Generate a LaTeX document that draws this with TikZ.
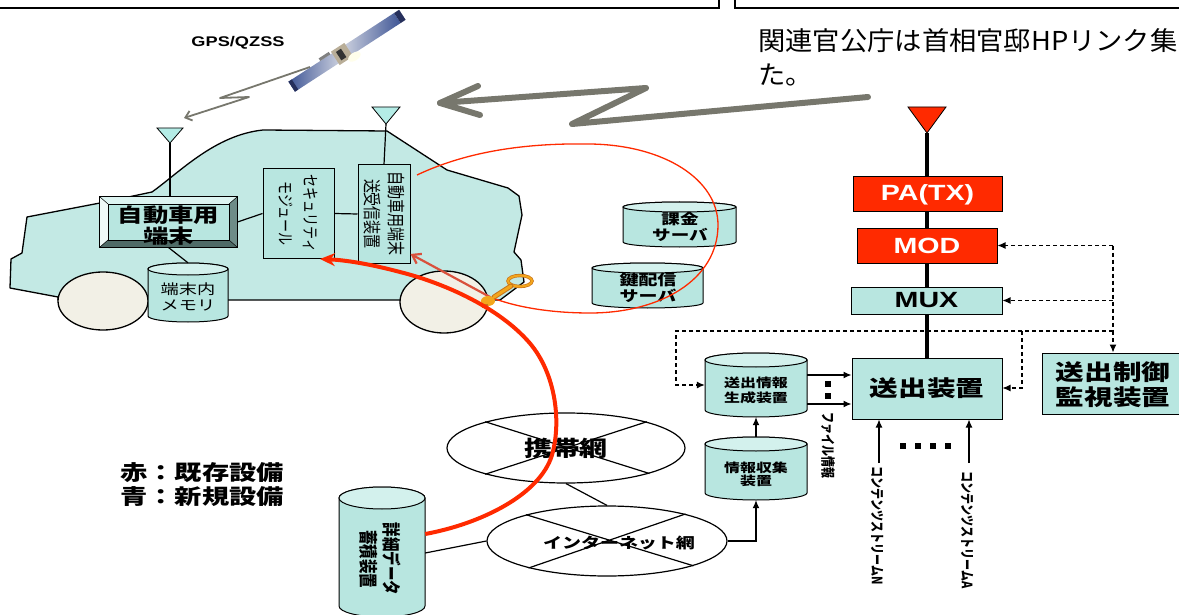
\documentclass[tikz,border=0pt]{standalone}
\usepackage{fontspec}
\usepackage{graphicx}
\setmainfont{Liberation Sans}
\newfontfamily\jp{Noto Sans CJK JP}
\usetikzlibrary{arrows.meta,shapes.geometric,calc}

\definecolor{aqua}{HTML}{B8E6E0}
\definecolor{aquatop}{HTML}{D3F1ED}
\definecolor{carbody}{HTML}{C3E9E4}
\definecolor{antc}{HTML}{B4ECE6}
\definecolor{tyre}{HTML}{F2F0E6}
\definecolor{hot}{HTML}{FF2A00}
\definecolor{rustred}{HTML}{D9503C}
\definecolor{wave}{HTML}{77776D}
\definecolor{keygold}{HTML}{F3A61C}
\definecolor{keyedge}{HTML}{C8741A}
\definecolor{bevlight}{HTML}{DDF4F1}
\definecolor{bevpale}{HTML}{EFFAF8}
\definecolor{bevdark}{HTML}{4F6B67}
\definecolor{bevmid}{HTML}{6E8C88}
\definecolor{satblue}{HTML}{3F5696}
\definecolor{satpale}{HTML}{C9CEDD}
\definecolor{satdark}{HTML}{26305C}
\definecolor{satbody}{HTML}{B9AE98}

\tikzset{
  wire/.style={draw=black, line width=1.2pt},
  arr/.style={wire, -{Latex[length=8pt,width=7pt]}},
  ctl/.style={draw=black, line width=1.1pt, dash pattern=on 4pt off 3pt},
  ctlarr/.style={ctl, -{Latex[length=8pt,width=7pt]}},
  box/.style={draw=black, line width=1pt, fill=aqua, inner sep=0pt},
  redbox/.style={draw=black, line width=1pt, fill=hot, inner sep=0pt},
  net/.style={draw=black, line width=1.2pt, ellipse, inner sep=0pt},
  lbl/.style={inner sep=0pt, xscale=1.3, align=center},
  vlbl/.style={inner sep=0pt, xscale=1.3, rotate=-90, align=center},
  jb/.style 2 args={font=\jp\bfseries\fontsize{#1}{#2}\selectfont},
  jr/.style 2 args={font=\jp\fontsize{#1}{#2}\selectfont},
  lb/.style 2 args={font=\bfseries\fontsize{#1}{#2}\selectfont},
  wavethin/.style={draw=wave, line width=1.8pt, line join=round, -{Straight Barb[length=6pt,width=10pt]}},
  wavebig/.style={draw=wave, line width=6pt, line join=round, line cap=round},
  redthin/.style={draw=hot, line width=1.3pt},
  redmid/.style={draw=rustred, line width=2.2pt, -{Straight Barb[length=8pt,width=11pt]}},
  redfat/.style={draw=hot, line width=4pt, -{Stealth[length=15pt,width=13pt]}},
}

% drum: name, centre x, top y, bottom y, half width, cap radius
\newcommand{\drum}[6]{%
  \pgfmathsetmacro{\drumL}{#2-#5}%
  \pgfmathsetmacro{\drumR}{#2+#5}%
  \pgfmathsetmacro{\drumT}{#3+#6}%
  \pgfmathsetmacro{\drumB}{#4-#6}%
  \pgfmathsetmacro{\drumM}{(#3+#4)/2}%
  \pgfmathsetmacro{\drumW}{2*#5}%
  \pgfmathsetmacro{\drumH}{#4-#3}%
  \filldraw[fill=aqua,draw=black,line width=1pt] (\drumL,\drumT) -- (\drumL,\drumB)
    arc[start angle=180,end angle=0,x radius=#5,y radius=#6] -- (\drumR,\drumT)
    arc[start angle=0,end angle=-180,x radius=#5,y radius=#6] -- cycle;
  \filldraw[fill=aquatop,draw=black,line width=1pt] (#2,\drumT) ellipse[x radius=#5,y radius=#6];
  \node[inner sep=0pt,minimum width=\drumW,minimum height=\drumH] (#1) at (#2,\drumM) {};
}

\begin{document}
\begin{tikzpicture}[x=1pt,y=-1pt]
\useasboundingbox (0,0) rectangle (1179,615);
\clip (0,0) rectangle (1179,615);

% page frames along the top
\draw[line width=2.2pt] (-5,8) -- (719,8) -- (719,-5);
\draw[line width=2.2pt] (735,-5) -- (735,8) -- (1190,8);

% heading text
\node[jr={26}{30}, xscale=1.05, inner sep=0pt, anchor=base west] (hd1) at (758,51) {関連官公庁は首相官邸HPリンク集};
\node[jr={26}{30}, xscale=1.05, inner sep=0pt, anchor=base west] (hd2) at (758,85) {た。};

% satellite
\node[lbl, lb={14}{16}] (gps) at (238,42.5) {GPS/QZSS};
\begin{scope}[shift={(342,54)}, rotate=33]
  \shade[left color=satblue, right color=satpale] (-60,-6) rectangle (-7,6);
  \shade[left color=satpale, right color=satblue] (7,-6) rectangle (66,6);
  \fill[satdark] (66,-6) rectangle (72,6);
  \fill[satdark] (-60,-6) rectangle (-56,6);
  \fill[satbody] (-8,-8) rectangle (8,8);
  \fill[black!80] (-4,-5) rectangle (2,5);
  \fill[white!92!yellow] (9,9) ellipse[x radius=7, y radius=4];
  \fill[gray] (-22,-9) rectangle (-10,-6);
\end{scope}

% radio paths
\coordinate (satpt) at (310,67);
\coordinate (gz1) at (220,98);
\coordinate (gz2) at (249,97);
\coordinate (gtip) at (184,118);
\draw[wavethin] (satpt) -- (gz1) -- (gz2) -- (gtip);

\coordinate (bw0) at (868,97);
\coordinate (bw1) at (572,124);
\coordinate (bw2) at (646,88);
\coordinate (bw3) at (440,103);
\draw[wavebig] (bw0) -- (bw1) -- (bw2) -- (bw3);
\draw[wavebig] (bw3) -- ++(38,-17) (bw3) -- ++(40,12);

% car body and wheels
\filldraw[fill=carbody, draw=black, line width=1.3pt, line join=round]
  (58,297) -- (10,288) -- (11,259) -- (22,253) -- (27,217) -- (100,203) -- (152,192)
  .. controls (180,172) and (215,135) .. (263,130) -- (387,131) -- (447,170)
  -- (508,188) -- (519,196) -- (522,215) -- (514,252) -- (521,260) -- (524,282)
  -- (500,300) -- (58,300) -- cycle;
\filldraw[fill=tyre, draw=black, line width=1.3pt] (103,301) ellipse[x radius=45, y radius=29];
\filldraw[fill=tyre, draw=black, line width=1.3pt] (444,302) ellipse[x radius=44, y radius=31];

% antennas on the car
\filldraw[fill=antc, draw=black, line width=0.8pt] (157,128) -- (183,128) -- (170,143) -- cycle;
\coordinate (ant1) at (170,143);
\filldraw[fill=antc, draw=black, line width=0.8pt] (372,107) -- (400,107) -- (386,124) -- cycle;
\coordinate (ant2) at (386,124);

% on-board units
\node[box, minimum width=137, minimum height=50] (term) at (168.5,222) {};
\fill[bevlight] (100,197) -- (237,197) -- (229,204) -- (108,204) -- cycle;
\fill[bevpale] (100,197) -- (108,204) -- (108,240) -- (100,247) -- cycle;
\fill[bevdark] (100,247) -- (108,240) -- (229,240) -- (237,247) -- cycle;
\fill[bevmid] (237,197) -- (229,204) -- (229,240) -- (237,247) -- cycle;
\draw[line width=1pt] (term.north west) rectangle (term.south east);
\draw[line width=0.6pt] (108,204) rectangle (229,240);
\draw[line width=0.5pt] (100,197) -- (108,204) (237,197) -- (229,204) (100,247) -- (108,240) (237,247) -- (229,240);
\node[lbl, jb={19.5}{21}] at (168.5,226) {自動車用\\端末};

\node[box, minimum width=71, minimum height=89] (sec) at (298.5,213.5) {};
\node[vlbl, jr={13}{19.2}] at (sec) {セキュリティ\\モジュール};
\node[box, minimum width=52, minimum height=98] (trx) at (384,214) {};
\node[vlbl, jr={14}{18.5}] at (trx) {自動車用端末\\送受信装置};

\drum{mem}{188}{263}{322}{40}{6}
\node[lbl, jr={14}{16}] at (188,297) {端末内\\メモリ};

\draw[wire] (ant1) -- (ant1 |- term.north);
\draw[wire] (ant2) -- (trx.north);
\draw[wire] (term.east) -- (sec.west);
\draw[wire] (sec.east) -- (trx.west);
\draw[wire] (term.south) -- (mem.north);

% key servers
\drum{bill}{679.5}{202}{247}{56.5}{5}
\node[lbl, jb={14.3}{16.5}] at (680,227) {課金\\サーバ};
\drum{keysrv}{647.5}{263}{308}{55.5}{5}
\node[lbl, jb={14.6}{16.5}] at (648,288) {鍵配信\\サーバ};

% key exchange loop
\coordinate (loopa) at (417,175);
\coordinate (keypt) at (490,297);
\coordinate (trxin) at (trx.east |- 0,254);
\draw[redthin] (loopa) .. controls (470,150) and (530,143) .. (590,144)
  .. controls (665,145) and (718,180) .. (718,225)
  .. controls (718,280) and (660,313) .. (590,313)
  .. controls (550,313) and (515,307) .. (keypt);
\draw[redmid] (keypt) -- (trxin);

% key
\draw[keyedge, line width=3.4pt] (520,281) ellipse[x radius=12, y radius=5.5];
\draw[keygold, line width=2pt] (520,281) ellipse[x radius=12, y radius=5.5];
\draw[keyedge, line width=5pt, line cap=round] (511,286) -- (494,297);
\draw[keygold, line width=3pt, line cap=round] (511,286) -- (494,297);
\fill[keygold] (488,301) ellipse[x radius=7, y radius=5];
\fill[keyedge] (482,304) rectangle (488,308);

% transmitter chain
\coordinate (tri) at (927,133);
\draw[line width=4.5pt] (tri) -- (927,358);
\filldraw[fill=hot, draw=black, line width=0.8pt] (908,107) -- (946,107) -- (tri) -- cycle;
\node[redbox, minimum width=149, minimum height=35] (pa) at (927.5,194.5) {};
\node[lbl, lb={22}{24}, text=white] at (pa) {PA(TX)};
\node[redbox, minimum width=140, minimum height=35] (mod) at (927,245.5) {};
\node[lbl, lb={22}{24}, text=white] at (mod) {MOD};
\node[box, minimum width=151, minimum height=27] (mux) at (926.5,300.5) {};
\node[lbl, lb={22}{24}] at (mux) {MUX};
\node[box, minimum width=150, minimum height=61] (sout) at (927,388.5) {};
\node[lbl, jb={22}{25}] at (sout) {送出装置};
\node[box, minimum width=142, minimum height=61] (ctrl) at (1113,383.5) {};
\node[lbl, jb={22}{25}] at (1113,385) {送出制御\\監視装置};

\drum{gen}{756}{353}{417}{51}{7}
\node[lbl, jb={12.3}{15}] at (756,390) {送出情報\\生成装置};
\drum{col}{756}{437}{500}{51}{7}
\node[lbl, jb={12.3}{13}] at (756,474) {情報収集\\装置};

% control (dashed) lines
\coordinate (dtop) at (ctrl.north |- mod.east);
\coordinate (dmid) at (ctrl.north |- 0,331);
\coordinate (dleft) at (676,331);
\coordinate (dinner) at (1022,331);
\draw[ctlarr] (dtop) -- (mod.east);
\draw[ctlarr] (ctrl.north |- mux.east) -- (mux.east);
\draw[ctl] (dtop) -- (dmid);
\draw[ctlarr] (dmid) -- (ctrl.north);
\draw[ctlarr] (dmid) -- (dleft) -- (dleft |- 0,385) -- (gen.west |- 0,385);
\draw[ctlarr] (dinner) -- (dinner |- 0,388) -- (sout.east |- 0,388);

% data flow
\draw[arr] (gen.east |- 0,375) -- (sout.west |- 0,375);
\draw[arr] (gen.east |- 0,404) -- (sout.west |- 0,404);
\fill (825,381) rectangle ++(6,6);
\fill (825,393) rectangle ++(6,6);
\node[vlbl, jb={11}{13}] (finfo) at (828,445) {ファイル情報};
\draw[arr] (col.north) -- (gen.south);

\coordinate (sN) at (879,463);
\coordinate (sA) at (969,463);
\draw[arr] (sN) -- (sN |- sout.south);
\draw[arr] (sA) -- (sA |- sout.south);
\node[vlbl, jb={11}{13}] (lN) at (877,526) {コンテンツストリームN};
\node[vlbl, jb={11}{13}] (lA) at (967,530) {コンテンツストリームA};
\foreach \dx in {900,915,930,945} \fill (\dx,443) rectangle ++(6,6);

% networks
\node[net, minimum width=238, minimum height=70] (mob) at (566,448) {};
\draw[wire] (mob.162) -- (mob.-17) (mob.18) -- (mob.198);
\node[lbl, jb={21.5}{24}] at (mob) {携帯網};
\node[net, minimum width=240, minimum height=70] (inet) at (607,541) {};
\draw[wire] (inet.162) -- (inet.-16) (inet.19) -- (inet.199);
\node[lbl, jb={14.6}{17}] at (619,543) {インターネット網};
\draw[wire] (mob.south) -- (inet.north);
\draw[arr] (inet.east) -| (col.south);

\drum{dt}{382}{487}{617}{43}{11}
\node[vlbl, jb={14.5}{17.7}] at (380.5,559) {詳細データ\\蓄積装置};
\draw[wire] (dt.east |- 0,553) -- (inet.west);

% access path over the mobile network
\coordinate (rs) at (dt.east |- 0,534);
\coordinate (re) at (320,259);
\draw[redfat] (rs) .. controls (480,524) and (540,495) .. (552,455)
  .. controls (562,420) and (555,370) .. (527,340)
  .. controls (495,305) and (440,282) .. (400,272)
  .. controls (370,264) and (345,260) .. (re);

% legend
\node[lbl, jb={21}{24}, align=left, anchor=west] (legend) at (120,485) {赤：既存設備\\青：新規設備};
\end{tikzpicture}
\end{document}
